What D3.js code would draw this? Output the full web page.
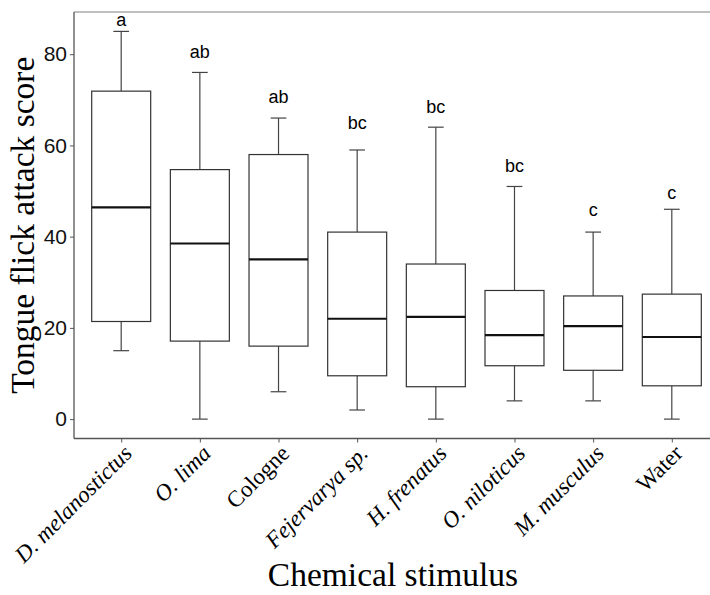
<!DOCTYPE html>
<html>
<head>
<meta charset="utf-8">
<script src="https://cdn.jsdelivr.net/npm/d3@7"></script>
<style>
  body { margin: 0; background: #fff; }
</style>
</head>
<body>
<div id="chart"></div>
<script>
// stimulus categories, in plot order
const stimuli = ["D. melanostictus", "O. lima", "Cologne", "Fejervarya sp.", "H. frenatus", "O. niloticus", "M. musculus", "Water"];
const notItalic = ["Cologne", "Water"];

// box statistics
const whiskerLow = [15, 0, 6, 2, 0, 4, 4, 0];
const q1 = [21.4, 17.1, 16, 9.5, 7.1, 11.7, 10.7, 7.3];
const median = [46.4, 38.5, 35, 22, 22.4, 18.4, 20.4, 18];
const q3 = [71.9, 54.7, 58, 41, 34, 28.2, 27, 27.4];
const whiskerHigh = [85, 76, 66, 59, 64, 51, 41, 46];

// significance letters and the value they sit at
const letters = ["a", "ab", "ab", "bc", "bc", "bc", "c", "c"];
const letterAt = [87.5, 80.5, 70.6, 65, 68.4, 55.5, 46, 49.7];

const yTicks = [0, 20, 40, 60, 80];

const W = 710, H = 595;
const panel = { left: 74, right: 719, top: 12, bottom: 438.5 };

const svg = d3.select("#chart").append("svg")
  .attr("width", W)
  .attr("height", H);

const x = d3.scalePoint()
  .domain(stimuli)
  .range([panel.left, panel.right])
  .padding(0.6);

// ggplot style 5% expansion around 0..85
const y = d3.scaleLinear()
  .domain([-4.25, 89.25])
  .range([panel.bottom, panel.top]);

const boxW = x.step() * 0.75;
const capW = x.step() * 0.2;

const data = stimuli.map((s, i) => ({
  name: s, lo: whiskerLow[i], q1: q1[i], med: median[i], q3: q3[i], hi: whiskerHigh[i],
  letter: letters[i], letterAt: letterAt[i]
}));

// top border (light)
svg.append("line")
  .attr("x1", panel.left).attr("x2", W)
  .attr("y1", panel.top).attr("y2", panel.top)
  .attr("stroke", "#aaa").attr("stroke-width", 1.3);

// boxes
const g = svg.append("g").selectAll("g").data(data).enter().append("g");

// whiskers
g.append("line")
  .attr("x1", d => x(d.name)).attr("x2", d => x(d.name))
  .attr("y1", d => y(d.hi)).attr("y2", d => y(d.q3))
  .attr("stroke", "#444").attr("stroke-width", 1.2);
g.append("line")
  .attr("x1", d => x(d.name)).attr("x2", d => x(d.name))
  .attr("y1", d => y(d.q1)).attr("y2", d => y(d.lo))
  .attr("stroke", "#444").attr("stroke-width", 1.2);

// caps
g.selectAll(".cap").data(d => [{ n: d.name, v: d.hi }, { n: d.name, v: d.lo }]).enter()
  .append("line")
  .attr("x1", d => x(d.n) - capW / 2).attr("x2", d => x(d.n) + capW / 2)
  .attr("y1", d => y(d.v)).attr("y2", d => y(d.v))
  .attr("stroke", "#444").attr("stroke-width", 1.2);

g.append("rect")
  .attr("x", d => x(d.name) - boxW / 2)
  .attr("y", d => y(d.q3))
  .attr("width", boxW)
  .attr("height", d => y(d.q1) - y(d.q3))
  .attr("fill", "#fff")
  .attr("stroke", "#333").attr("stroke-width", 1.2);

g.append("line")
  .attr("x1", d => x(d.name) - boxW / 2).attr("x2", d => x(d.name) + boxW / 2)
  .attr("y1", d => y(d.med)).attr("y2", d => y(d.med))
  .attr("stroke", "#111").attr("stroke-width", 2.2);

// letters
g.append("text")
  .attr("x", d => x(d.name))
  .attr("y", d => y(d.letterAt))
  .attr("dy", "0.35em")
  .attr("text-anchor", "middle")
  .attr("font-family", "Liberation Sans, Arial, sans-serif")
  .attr("font-size", "18px")
  .attr("fill", "#000")
  .text(d => d.letter);

// y axis
const yAxis = svg.append("g")
  .attr("transform", `translate(${panel.left},0)`)
  .call(d3.axisLeft(y).tickValues(yTicks).tickSize(4).tickPadding(3).tickSizeOuter(0));
yAxis.select(".domain").attr("d", `M0,${panel.top}V${panel.bottom}`).attr("stroke", "#555").attr("stroke-width", 1.3);
yAxis.selectAll(".tick line").attr("stroke", "#555");
yAxis.selectAll(".tick text")
  .attr("font-family", "Liberation Sans, Arial, sans-serif")
  .attr("font-size", "21px")
  .attr("fill", "#111");

// x axis
const xAxis = svg.append("g")
  .attr("transform", `translate(0,${panel.bottom})`)
  .call(d3.axisBottom(x).tickSize(4).tickSizeOuter(0));
xAxis.select(".domain").attr("d", `M${panel.left},0H${W}`).attr("stroke", "#555").attr("stroke-width", 1.3);
xAxis.selectAll(".tick line").attr("stroke", "#555");
xAxis.selectAll(".tick text").remove();

svg.append("g").selectAll("text").data(stimuli).enter()
  .append("text")
  .attr("transform", d => `translate(${x(d)},${panel.bottom + 4}) rotate(-45)`)
  .attr("dy", "0.75em")
  .attr("text-anchor", "end")
  .attr("font-family", "Liberation Serif, Times New Roman, serif")
  .attr("font-style", d => notItalic.includes(d) ? "normal" : "italic")
  .attr("font-size", "23px")
  .attr("fill", "#000")
  .text(d => d);

// axis titles
svg.append("text")
  .attr("x", 393)
  .attr("y", 586)
  .attr("text-anchor", "middle")
  .attr("font-family", "Liberation Serif, Times New Roman, serif")
  .attr("font-size", "33.5px")
  .attr("fill", "#000")
  .text("Chemical stimulus");

svg.append("text")
  .attr("transform", `translate(34,${(panel.top + panel.bottom) / 2}) rotate(-90)`)
  .attr("text-anchor", "middle")
  .attr("font-family", "Liberation Serif, Times New Roman, serif")
  .attr("font-size", "33.5px")
  .attr("fill", "#000")
  .text("Tongue flick attack score");
</script>
</body>
</html>
